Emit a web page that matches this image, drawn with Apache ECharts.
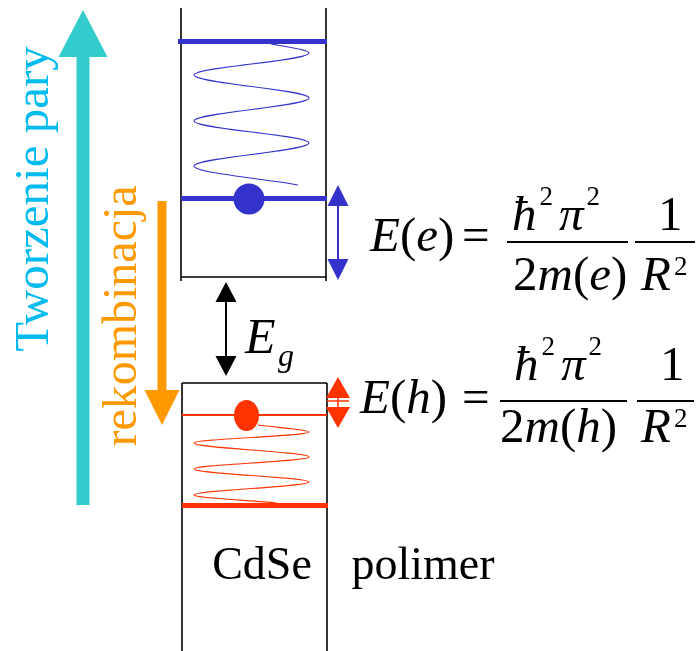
<!DOCTYPE html>
<html><head><meta charset="utf-8">
<script src="https://cdn.jsdelivr.net/npm/echarts@6/dist/echarts.min.js"></script>
<style>html,body{margin:0;padding:0;background:#fff}#c{width:700px;height:651px}</style>
</head><body><div id="c"></div>
<script>
// ---------- data (diagram units: x to the right, y downward) ----------
const wellWalls = [[181, 8, 281], [326, 8, 281], [182, 383, 651], [327, 383, 651]]; // [x, yTop, yBottom]
const wellEdges = [[277, 181, 327], [383, 182, 327]];                              // [y, xLeft, xRight]
const electronLevels = [[41, 178, 327], [198, 181, 327]];
const holeLevelUpper = [[415, 182, 327]];
const holeLevelLower = [[505, 182, 328]];
const electronWave = [[267, 43], [309, 53], [194, 75], [309, 98], [194, 121], [309, 143], [194, 166], [298, 185]];
const holeWave = [[258, 425], [309, 432], [194, 443], [309, 457], [194, 469], [309, 482], [194, 495], [277, 503]];
const electron = [[249, 199]];
const hole = [[246.5, 415.5]];
const gapArrow = [[226, 282, 376]];        // [x, yTopTip, yBottomTip]
const electronArrow = [[338, 185, 280]];
const holeArrow = [[338, 377, 428]];
const creationArrow = [[83, 505, 10]];      // [x, yTail, yTip]
const recombArrow = [[162, 201, 425]];
const fractionBars = [[242, 507, 628], [242, 635, 695], [401, 500, 627], [401, 637, 694]];
const sideLabels = ['Tworzenie pary', 'rekombinacja'];
const sideLabelAnchors = [[35, 199], [123, 316]];
const materialLabels = ['CdSe', 'polimer'];
const materialAnchors = [[262, 567], [423, 567]];
const formulaLabels = ['E(e)', '=', 'ħ²π²', '2m(e)', '1', 'R²', 'E(h)', '=', 'ħ²π²', '2m(h)', '1', 'R²'];
const formulaAnchors = [[370, 238], [462, 238], [512, 217], [513, 277], [658, 217], [641, 277],
                        [360, 400], [462, 400], [514, 367], [500, 429], [660, 367], [641, 429]];
const gapLabel = ['E'];
const gapLabelAnchor = [[245, 340]];
const gapSubLabel = ['g'];
const gapSubAnchor = [[278, 358]];

// ---------- helpers ----------
const SERIF = '"Liberation Serif", "Times New Roman", serif';
const BLUE = '#3333CC', RED = '#FF3300', CYAN = '#33CCCC', ORANGE = '#FF9900';

function hSeg(arr) { return arr.map(r => ({ coords: [[r[1], r[0]], [r[2], r[0]]] })); }
function vSeg(arr) { return arr.map(r => ({ coords: [[r[0], r[1]], [r[0], r[2]]] })); }
function linesSeries(name, data, color, width) {
  return { type: 'lines', name, coordinateSystem: 'cartesian2d', silent: true, data,
    symbol: ['none', 'none'], lineStyle: { color, width, opacity: 1, cap: 'butt' } };
}
function waveSeries(name, pts, color, width) {
  return { type: 'custom', name, data: pts, silent: true,
    renderItem(params, api) {
      const i = params.dataIndexInside, n = params.dataInsideLength;
      if (i >= n - 1) return null;
      const p0 = api.coord([api.value(0, i), api.value(1, i)]);
      const p1 = api.coord([api.value(0, i + 1), api.value(1, i + 1)]);
      const dx = p1[0] - p0[0], dy = p1[1] - p0[1], k = 0.36;
      const c1 = i === 0 ? [p0[0] + dx / 3, p0[1] + dy / 3] : [p0[0], p0[1] + k * dy];
      const c2 = i === n - 2 ? [p0[0] + 2 * dx / 3, p0[1] + 2 * dy / 3] : [p1[0], p1[1] - k * dy];
      return { type: 'bezierCurve',
        shape: { x1: p0[0], y1: p0[1], x2: p1[0], y2: p1[1], cpx1: c1[0], cpy1: c1[1], cpx2: c2[0], cpy2: c2[1] },
        style: { stroke: color, lineWidth: width, fill: null } };
    } };
}
function doubleArrowSeries(name, arr, color, lw, hl, hw, bar) {
  return { type: 'custom', name, data: arr, silent: true,
    renderItem(params, api) {
      const t = api.coord([api.value(0), api.value(1)]);
      const b = api.coord([api.value(0), api.value(2)]);
      const x = t[0];
      const ch = [
        { type: 'line', shape: { x1: x, y1: t[1] + hl, x2: x, y2: b[1] - hl }, style: { stroke: color, lineWidth: lw } },
        { type: 'polygon', shape: { points: [[x, t[1]], [x - hw / 2, t[1] + hl], [x + hw / 2, t[1] + hl]] }, style: { fill: color } },
        { type: 'polygon', shape: { points: [[x, b[1]], [x - hw / 2, b[1] - hl], [x + hw / 2, b[1] - hl]] }, style: { fill: color } }
      ];
      if (bar) {
        const m = t[1] + hl + 3;
        ch.push({ type: 'line', shape: { x1: x - bar / 2, y1: m, x2: x + bar / 2, y2: m }, style: { stroke: color, lineWidth: 1.5 } });
      }
      return { type: 'group', children: ch };
    } };
}
function arrowSeries(name, arr, color, sw, hl, hw) {
  return { type: 'custom', name, data: arr, silent: true,
    renderItem(params, api) {
      const a = api.coord([api.value(0), api.value(1)]);
      const b = api.coord([api.value(0), api.value(2)]);
      const x = a[0], dir = Math.sign(b[1] - a[1]);
      const base = b[1] - dir * hl;
      return { type: 'group', children: [
        { type: 'polygon', shape: { points: [[x - sw / 2, a[1]], [x + sw / 2, a[1]], [x + sw / 2, base], [x - sw / 2, base]] }, style: { fill: color } },
        { type: 'polygon', shape: { points: [[x, b[1]], [x - hw / 2, base], [x + hw / 2, base]] }, style: { fill: color } }
      ] };
    } };
}
// italic letters, upright digits/brackets, superscript for '²' (lower after a capital)
function toRich(s) {
  let out = '', cur = null, buf = '', prev = '';
  for (const ch of s) {
    let k, c = ch;
    if (ch === '²') { k = /[A-Z]/.test(prev) ? 't' : 's'; c = '2'; }
    else k = /[A-Za-zħπ]/.test(ch) ? 'i' : 'n';
    if ((k !== cur || k === 's' || k === 't') && buf) { out += '{' + cur + '|' + buf + '}'; buf = ''; }
    cur = k; buf += c; prev = ch;
  }
  if (buf) out += '{' + cur + '|' + buf + '}';
  return out;
}
function textSeries(name, labels, anchors, opt) {
  return { type: 'custom', name, silent: true, data: anchors,
    renderItem(params, api) {
      const p = api.coord([api.value(0), api.value(1)]);
      const label = labels[params.dataIndex];
      const fs = opt.fontSize, color = opt.color;
      const style = { x: 0, y: 0, align: opt.align || 'left', verticalAlign: 'middle', fill: color,
        fontFamily: SERIF, fontSize: fs, fontStyle: 'normal' };
      if (opt.math) {
        const sfs = Math.round(fs * 0.56);
        style.text = toRich(label);
        style.rich = {
          i: { fontFamily: SERIF, fontSize: fs, fontStyle: 'italic', fill: color },
          n: { fontFamily: SERIF, fontSize: fs, fontStyle: 'normal', fill: color },
          s: { fontFamily: SERIF, fontSize: sfs, fontStyle: 'normal', fill: color,
               padding: [0, 6, Math.round(fs * 0.8), 3] },
          t: { fontFamily: SERIF, fontSize: sfs, fontStyle: 'normal', fill: color,
               padding: [0, 2, Math.round(fs * 0.36), 3] }
        };
      } else style.text = label;
      return { type: 'text', x: p[0], y: p[1], rotation: opt.rotation || 0, style };
    } };
}

const chart = echarts.init(document.getElementById('c'), null, { renderer: 'canvas' });
chart.setOption({
  animation: false,
  backgroundColor: '#ffffff',
  grid: { left: 0, right: 0, top: 0, bottom: 0 },
  xAxis: { type: 'value', min: 0, max: 700, show: false },
  yAxis: { type: 'value', min: 0, max: 651, inverse: true, show: false },
  series: [
    linesSeries('walls', vSeg(wellWalls).concat(hSeg(wellEdges)), '#000000', 1.6),
    linesSeries('fractions', hSeg(fractionBars), '#000000', 2),
    linesSeries('electron levels', hSeg(electronLevels), BLUE, 5),
    linesSeries('hole upper level', hSeg(holeLevelUpper), RED, 2),
    linesSeries('hole lower level', hSeg(holeLevelLower), RED, 5),
    waveSeries('electron wave', electronWave, BLUE, 1.1),
    waveSeries('hole wave', holeWave, RED, 1.2),
    { type: 'scatter', name: 'electron', data: electron, symbol: 'circle', symbolSize: 31, silent: true,
      itemStyle: { color: BLUE, opacity: 1 } },
    { type: 'scatter', name: 'hole', data: hole, symbol: 'circle', symbolSize: [25, 31], silent: true,
      itemStyle: { color: RED, opacity: 1 } },
    doubleArrowSeries('gap arrow', gapArrow, '#000000', 2, 20, 21),
    doubleArrowSeries('electron arrow', electronArrow, BLUE, 2, 21, 21),
    doubleArrowSeries('hole arrow', holeArrow, RED, 1.5, 21, 24, 22),
    arrowSeries('creation arrow', creationArrow, CYAN, 13, 47, 49),
    arrowSeries('recombination arrow', recombArrow, ORANGE, 9, 35, 35),
    textSeries('creation label', sideLabels.slice(0, 1), sideLabelAnchors.slice(0, 1), { fontSize: 49, color: '#00BBEE', align: 'center', rotation: Math.PI / 2 }),
    textSeries('recombination label', sideLabels.slice(1), sideLabelAnchors.slice(1), { fontSize: 48, color: ORANGE, align: 'center', rotation: Math.PI / 2 }),
    textSeries('materials', materialLabels, materialAnchors, { fontSize: 46, color: '#000000', align: 'center' }),
    textSeries('formulas', formulaLabels, formulaAnchors, { fontSize: 49, color: '#000000', math: true }),
    textSeries('gap label', gapLabel, gapLabelAnchor, { fontSize: 50, color: '#000000', math: true }),
    textSeries('gap subscript', gapSubLabel, gapSubAnchor, { fontSize: 32, color: '#000000', math: true })
  ]
});
</script></body></html>
